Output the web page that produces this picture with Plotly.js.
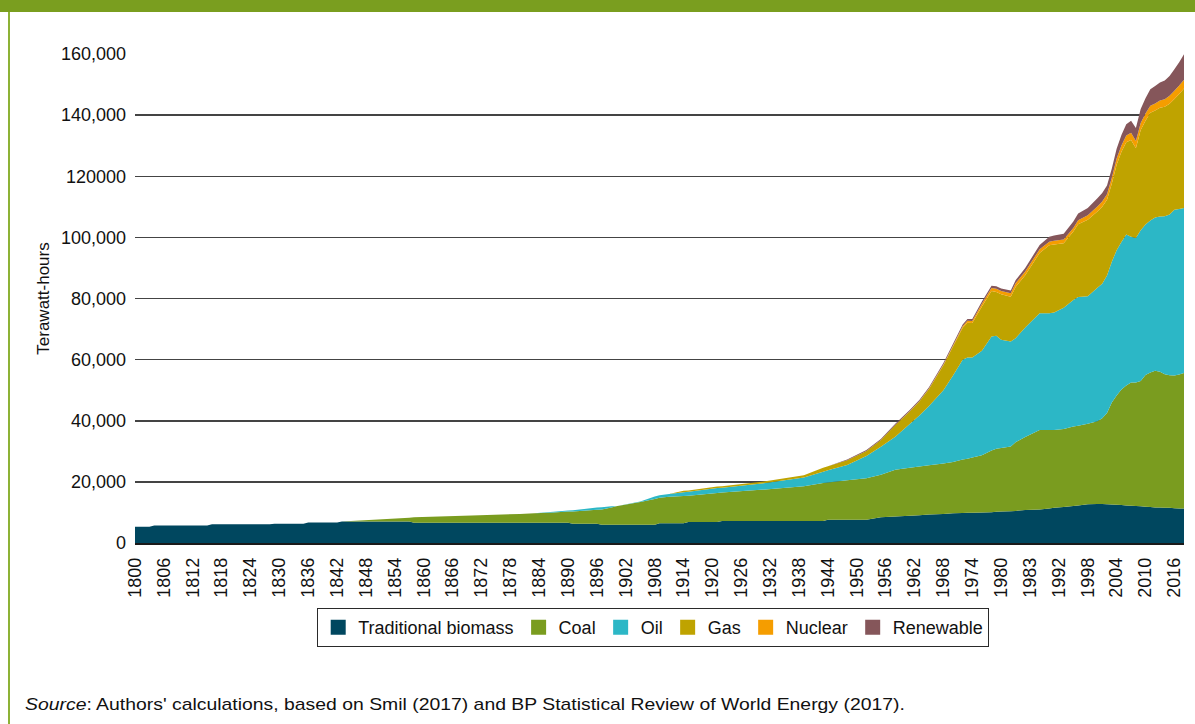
<!DOCTYPE html>
<html>
<head>
<meta charset="utf-8">
<script src="https://cdn.plot.ly/plotly-3.0.1.min.js"></script>
<style>
  html, body { margin: 0; padding: 0; background: #ffffff; }
  #wrap { position: relative; width: 1195px; height: 724px; overflow: hidden; background: #ffffff; }
  #chart { position: absolute; left: 0; top: 0; width: 1195px; height: 724px; }
  #topbar { position: absolute; left: 0; top: 0; width: 1195px; height: 12px; background: #7a9e1f; }
  #leftline { position: absolute; left: 8px; top: 12px; width: 2px; height: 712px; background: #8db236; }
  #source { position: absolute; left: 25px; top: 695px; font-family: "Liberation Sans", Arial, sans-serif; font-size: 17px; line-height: 20px; color: #111111; white-space: nowrap; transform: scaleX(1.14); transform-origin: 0 50%; }
</style>
</head>
<body>
<div id="wrap">
  <div id="chart"></div>
  <div id="topbar"></div>
  <div id="leftline"></div>
  <div id="source"><i>Source</i>: Authors' calculations, based on Smil (2017) and BP Statistical Review of World Energy (2017).</div>
</div>
<script>
// ---- Data (Terawatt-hours) ----
const years = [
  1800,1803,1804,1815,1816,1828,1829,1835,1836,1842,
  1843,1857,1858,1870,1880,1883,1887,1890,1891,1896,
  1897,1899,1900,1905,1908,1909,1911,1914,1915,1921,
  1922,1931,1939,1943,1944,1948,1952,1955,1958,1961,
  1963,1965,1968,1970,1972,1973,1974,1976,1978,1979,
  1980,1982,1983,1985,1988,1990,1991,1993,1995,1996,
  1998,2000,2001,2002,2003,2004,2005,2006,2007,2008,
  2009,2010,2011,2012,2013,2014,2015,2016,2017,2018
];
const biomass = [
  5300,5300,5700,5700,6100,6100,6300,6300,6700,6700,
  7000,7000,6600,6600,6600,6600,6600,6600,6300,6300,
  6000,6000,6000,6000,6000,6500,6500,6500,6900,6900,
  7200,7200,7200,7200,7600,7600,7600,8400,8700,8900,
  9100,9300,9500,9700,9800,9900,9900,10000,10100,10200,
  10300,10400,10500,10800,11000,11300,11500,11800,12100,12300,
  12700,12800,12800,12700,12600,12500,12400,12300,12200,12100,
  12000,11900,11800,11600,11600,11500,11500,11400,11300,11300
];
const coal = [
  0,0,0,0,0,0,0,0,0,0,
  0,1300,1800,2400,2900,3100,3400,3700,4000,4600,
  5000,5600,6000,7400,8400,8300,8600,8900,8600,9500,
  9300,10300,11400,12400,12200,12900,13600,13900,15300,15700,
  15900,16100,16500,16800,17500,17700,18100,18700,20200,20600,
  20800,21200,22500,23900,26000,25700,25500,25500,26000,26100,
  26300,27000,28000,29800,33400,35800,37800,39200,40300,40400,
  41000,43100,44000,44800,44400,43700,43400,43400,43800,44300
];
const oil = [
  0,0,0,0,0,0,0,0,0,0,
  0,0,0,0,0,0,200,300,400,700,
  700,400,0,200,800,800,900,1200,1300,1600,
  1600,2100,2800,3700,4000,5000,7300,9200,10800,14300,
  16700,19400,24000,28300,32700,33100,32700,34200,37300,37000,
  35400,34300,34000,35800,38200,38200,38400,39700,41400,42100,
  41700,43700,44000,45000,46000,47500,48300,49400,47700,47300,
  49300,49200,49700,50100,50800,51700,52600,54200,54200,54000
];
const gas = [
  0,0,0,0,0,0,0,0,0,0,
  0,0,0,0,0,0,0,0,0,0,
  0,0,0,0,0,0,0,500,400,500,
  500,600,800,1300,1300,1600,1600,2200,3850,4150,
  4600,5600,8150,9500,10400,11400,11250,14500,14850,14350,
  14850,14650,16800,17100,19700,22200,22300,21100,22400,23800,
  25100,25000,25200,24800,25600,28000,29500,30200,31700,29400,
  32800,34000,35300,35000,35600,35800,36200,36300,37600,39100
];
const nuclear = [
  0,0,0,0,0,0,0,0,0,0,
  0,0,0,0,0,0,0,0,0,0,
  0,0,0,0,0,0,0,0,0,0,
  0,0,0,0,0,0,0,0,0,50,
  100,150,250,350,500,600,700,900,1000,1050,
  1100,1150,1200,1200,1200,1200,1200,1200,1200,1300,
  1400,1600,1700,1800,1900,2000,2100,2200,2300,2300,
  2300,2300,2300,2300,2400,2500,2600,2700,2800,2900
];
const renewable = [
  0,0,0,0,0,0,0,0,0,0,
  0,0,0,0,0,0,0,0,0,0,
  0,0,0,0,0,0,0,0,0,0,
  0,0,0,0,0,200,300,300,350,400,
  400,450,500,550,600,600,650,700,750,800,
  850,900,1000,1200,1400,1600,1700,1900,2100,2200,
  2400,2700,2800,2900,3000,3200,3400,3700,4000,4300,
  4600,5000,5400,5700,5900,6100,6500,7000,7600,8300
];
const seriesNames = ['Traditional biomass', 'Coal', 'Oil', 'Gas', 'Nuclear', 'Renewable'];
const seriesColors = ['#00475f', '#7a9c1f', '#2cb7c6', '#bfa300', '#f59d00', '#85565a'];

const yTickVals = [0, 20000, 40000, 60000, 80000, 100000, 120000, 140000, 160000];
const yTickText = ['0', '20,000', '40,000', '60,000', '80,000', '100,000', '120000', '140,000', '160,000'];
const xTickVals = [1800,1806,1812,1818,1824,1830,1836,1842,1848,1854,1860,1866,1872,1878,1884,1890,1896,1902,1908,1914,1920,1926,1932,1938,1944,1950,1956,1962,1968,1974,1980,1986,1992,1998,2004,2010,2016];
const xTickText = ['1800','1806','1812','1818','1824','1830','1836','1842','1848','1854','1860','1866','1872','1878','1884','1890','1896','1902','1908','1914','1920','1926','1932','1938','1944','1950','1956','1962','1968','1974','1980','1983','1992','1998','2004','2010','2016'];

const seriesValues = [biomass, coal, oil, gas, nuclear, renewable];
const FONT = '"Liberation Sans", Arial, sans-serif';

const traces = [];
seriesValues.forEach(function (vals, i) {
  traces.push({
    type: 'scatter',
    x: years,
    y: vals,
    name: seriesNames[i],
    stackgroup: 'energy',
    mode: 'none',
    fillcolor: seriesColors[i],
    line: { width: 0, shape: 'linear' },
    showlegend: false,
    hoverinfo: 'x+y+name'
  });
});
// legend entries with square swatches
seriesNames.forEach(function (name, i) {
  traces.push({
    type: 'scatter',
    x: [null],
    y: [null],
    name: name,
    mode: 'markers',
    marker: { symbol: 'square', size: 15, color: seriesColors[i] },
    showlegend: true,
    hoverinfo: 'skip'
  });
});

const layout = {
  width: 1195,
  height: 724,
  margin: { l: 135, r: 11, t: 54, b: 181, pad: 0 },
  paper_bgcolor: 'rgba(0,0,0,0)',
  plot_bgcolor: 'rgba(0,0,0,0)',
  font: { family: FONT, size: 18, color: '#111111' },
  showlegend: true,
  xaxis: {
    type: 'linear',
    range: [1800, 2018],
    tickmode: 'array',
    tickvals: xTickVals,
    ticktext: xTickText,
    tickangle: -90,
    ticks: '',
    ticklabelstandoff: 6,
    showgrid: false,
    zeroline: false,
    showline: true,
    linecolor: '#1a1a1a',
    linewidth: 1.5,
    tickfont: { family: FONT, size: 18, color: '#111111' },
    fixedrange: true
  },
  yaxis: {
    range: [0, 160000],
    tickmode: 'array',
    tickvals: yTickVals,
    ticktext: yTickText,
    ticks: '',
    ticklabelstandoff: 8,
    showgrid: true,
    gridcolor: '#444444',
    gridwidth: 1.5,
    zeroline: false,
    showline: false,
    tickfont: { family: FONT, size: 18, color: '#111111' },
    title: { text: 'Terawatt-hours', font: { family: FONT, size: 17, color: '#111111' }, standoff: 6 },
    fixedrange: true
  },
  legend: {
    orientation: 'h',
    traceorder: 'normal',
    xref: 'paper',
    yref: 'paper',
    x: 0.494,
    xanchor: 'center',
    y: -0.133,
    yanchor: 'top',
    bgcolor: '#ffffff',
    bordercolor: '#2a2a2a',
    borderwidth: 1,
    font: { family: FONT, size: 18, color: '#111111' }
  }
};

Plotly.newPlot('chart', traces, layout, { staticPlot: true, displayModeBar: false });
</script>
</body>
</html>
